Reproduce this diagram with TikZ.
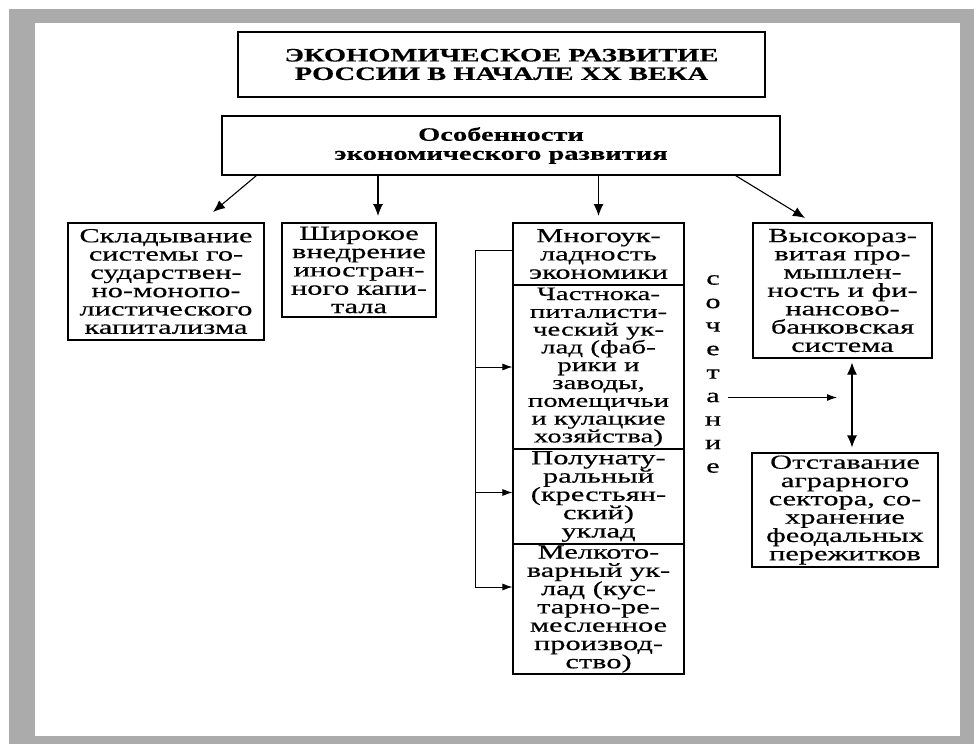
\documentclass[tikz,border=0pt]{standalone}
\usepackage{fontspec}
\setmainfont{Liberation Serif}[FakeStretch=1.52, FakeBold=0.4]
\newfontfamily\titlefont{Liberation Serif}[FakeStretch=1.5, FakeBold=0.4]
\usetikzlibrary{arrows.meta}
\definecolor{framegray}{RGB}{171,171,171}
\newcommand\fixbox[3]{\parbox[c][#2][c]{#1}{\centering #3}}
\begin{document}
\begin{tikzpicture}[x=1pt,y=-1pt,
  box/.style={draw=black, line width=1.1pt, inner sep=0pt, align=center,
    font=\fontsize{20}{18.3}\selectfont},
  headbox/.style={box, font=\titlefont\bfseries\fontsize{19}{18.5}\selectfont},
  arr/.style={line width=1.1pt, -{Latex[length=12pt,width=10pt]}},
  sarr/.style={line width=1pt, -{Latex[length=10pt,width=7pt]}},
  dbl/.style={line width=1.1pt, {Latex[length=12pt,width=10pt]}-{Latex[length=12pt,width=10pt]}},
  letter/.style={inner sep=0pt, font=\fontsize{20}{20}\selectfont}
]
\useasboundingbox (0,0) rectangle (974,744);
\fill[white] (0,0) rectangle (974,744);
\fill[framegray] (9,9) rectangle (974,744);
\fill[white] (35,23) rectangle (960,736);

\node[headbox, minimum width=527pt, minimum height=65pt] (title) at (501.5,64.5)
  {ЭКОНОМИЧЕСКОЕ РАЗВИТИЕ\\РОССИИ В НАЧАЛЕ XX ВЕКА};
\node[headbox, minimum width=558pt, minimum height=59pt, font=\titlefont\bfseries\fontsize{19}{19}\selectfont] (feat) at (501,145.5)
  {Особенности\\экономического развития};

\node[box] (b1) at (166,281.5)
  {\fixbox{196pt}{117pt}{Складывание\\системы го-\\сударствен-\\но-монопо-\\листического\\капитализма}};
\node[box] (b2) at (359,270)
  {\fixbox{154pt}{94pt}{Широкое\\внедрение\\иностран-\\ного капи-\\тала}};
\node[box] (m1) at (598.5,254)
  {\fixbox{171pt}{62pt}{Многоук-\\ладность\\экономики}};
\node[box, font=\fontsize{19}{17.8}\selectfont] (m2) at (598.5,367)
  {\fixbox{171pt}{164pt}{Частнока-\\питалисти-\\ческий ук-\\лад (фаб-\\рики и\\заводы,\\помещичьи\\и кулацкие\\хозяйства)}};
\node[box] (m3) at (598.5,496.5)
  {\fixbox{171pt}{95pt}{Полунату-\\ральный\\(крестьян-\\ский)\\уклад}};
\node[box] (m4) at (598.5,609)
  {\fixbox{171pt}{130pt}{Мелкото-\\варный ук-\\лад (кус-\\тарно-ре-\\месленное\\производ-\\ство)}};
\node[box] (b4) at (842.5,290.5)
  {\fixbox{179pt}{135pt}{Высокораз-\\витая про-\\мышлен-\\ность и фи-\\нансово-\\банковская\\система}};
\node[box] (b5) at (845,510)
  {\fixbox{186pt}{114pt}{Отставание\\аграрного\\сектора, со-\\хранение\\феодальных\\пережитков}};

% vertical word
\foreach \ch [count=\i from 0] in {с,о,ч,е,т,а,н,и,е} {
  \node[letter] (s\i) at (713,{280+23.5*\i}) {\ch};
}

% arrows from the features box
\coordinate (t1) at (213,212);
\coordinate (t2) at (378,216);
\coordinate (t3) at (598.5,216);
\coordinate (t4) at (805,218);
\draw[arr] ([xshift=35pt]feat.south west) -- (t1);
\draw[arr] (feat.south -| t2) -- (t2);
\draw[arr] (feat.south -| t3) -- (t3);
\draw[arr] ([xshift=-45pt]feat.south east) -- (t4);

% bracket on the left of the column
\coordinate (bk) at (475,587);
\draw[sarr] ([yshift=4pt]m1.west) -| (bk) -- (bk -| m4.west);
\draw[sarr] (m2.west -| bk) -- (m2.west);
\draw[sarr] ([yshift=4pt]m3.west -| bk) -- ([yshift=4pt]m3.west);

% "сочетание" arrow
\coordinate (ae) at (837,398);
\draw[sarr] ([xshift=8pt]s5.east) -- (s5.east -| ae);

% double arrow between right boxes
\coordinate (dx) at (852,0);
\draw[dbl, shorten <=4pt, shorten >=5pt] (b4.south -| dx) -- (b5.north -| dx);
\end{tikzpicture}
\end{document}
